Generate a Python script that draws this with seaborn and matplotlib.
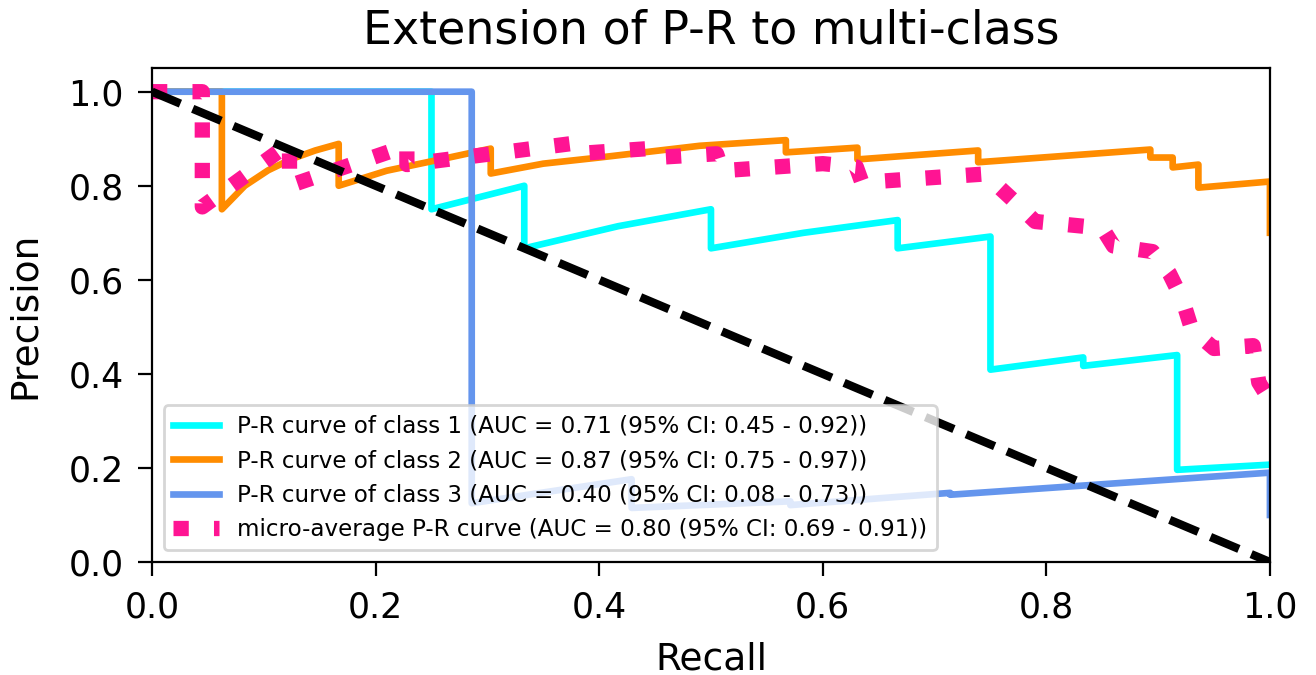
import matplotlib
matplotlib.use("Agg")
import matplotlib.pyplot as plt
import pandas as pd
import seaborn as sns

# P-R curves
class1_recall = [0, 0.25, 0.25, 0.333, 0.333, 0.417, 0.5, 0.5, 0.583, 0.667,
                 0.667, 0.75, 0.75, 0.833, 0.833, 0.917, 0.917, 1.0]
class1_precision = [1.0, 1.0, 0.75, 0.80, 0.667, 0.714, 0.75, 0.667, 0.70, 0.727,
                    0.667, 0.692, 0.409, 0.435, 0.417, 0.44, 0.196, 0.207]

class2_recall = [0, 0.0625, 0.0625, 0.083, 0.104, 0.125, 0.146, 0.167, 0.167, 0.21,
                 0.25, 0.303, 0.303, 0.35, 0.40, 0.49, 0.567, 0.567, 0.631, 0.631,
                 0.739, 0.739, 0.893, 0.893, 0.913, 0.913, 0.936, 0.936, 1.0, 1.0]
class2_precision = [1.0, 1.0, 0.75, 0.80, 0.833, 0.857, 0.875, 0.889, 0.80, 0.832,
                    0.852, 0.879, 0.826, 0.847, 0.86, 0.885, 0.897, 0.871, 0.881, 0.856,
                    0.875, 0.85, 0.877, 0.86, 0.86, 0.839, 0.845, 0.796, 0.809, 0.70]

class3_recall = [0, 0.286, 0.286, 0.429, 0.429, 0.571, 0.571, 0.714, 0.714, 1.0, 1.0]
class3_precision = [1.0, 1.0, 0.125, 0.176, 0.115, 0.129, 0.121, 0.147, 0.143, 0.19, 0.10]

micro_recall = [0, 0.045, 0.045, 0.123, 0.123, 0.228, 0.228, 0.383, 0.39, 0.444,
                0.45, 0.505, 0.51, 0.60, 0.63, 0.635, 0.745, 0.77, 0.79, 0.85,
                0.86, 0.895, 0.91, 0.922, 0.93, 0.95, 0.985, 0.99, 1.0]
micro_precision = [1.0, 1.0, 0.755, 0.89, 0.80, 0.885, 0.845, 0.892, 0.87, 0.879,
                   0.86, 0.868, 0.832, 0.847, 0.84, 0.807, 0.825, 0.77, 0.724, 0.71,
                   0.672, 0.66, 0.614, 0.556, 0.495, 0.454, 0.46, 0.382, 0.344]

labels = [
    "P-R curve of class 1 (AUC = 0.71 (95% CI: 0.45 - 0.92))",
    "P-R curve of class 2 (AUC = 0.87 (95% CI: 0.75 - 0.97))",
    "P-R curve of class 3 (AUC = 0.40 (95% CI: 0.08 - 0.73))",
    "micro-average P-R curve (AUC = 0.80 (95% CI: 0.69 - 0.91))",
]
colors = ["aqua", "darkorange", "cornflowerblue", "deeppink"]

curves = [
    (class1_recall, class1_precision),
    (class2_recall, class2_precision),
    (class3_recall, class3_precision),
    (micro_recall, micro_precision),
]

fig, ax = plt.subplots(figsize=(6.58, 3.375), dpi=200)
fig.subplots_adjust(left=0.1155, right=0.965, bottom=0.1674, top=0.899)

for i, (rec, prec) in enumerate(curves):
    df = pd.DataFrame({"recall": rec, "precision": prec})
    is_micro = i == 3
    sns.lineplot(
        data=df,
        x="recall",
        y="precision",
        sort=False,
        estimator=None,
        color=colors[i],
        linewidth=5.5 if is_micro else 2.4,
        linestyle=":" if is_micro else "-",
        label=labels[i],
        ax=ax,
    )

# chance line
chance = pd.DataFrame({"recall": [0, 1], "precision": [1, 0]})
sns.lineplot(data=chance, x="recall", y="precision", color="black",
             linestyle="--", linewidth=3, ax=ax, legend=False)

ax.set_xlim(0.0, 1.0)
ax.set_ylim(0.0, 1.05)
ax.set_xlabel("Recall", fontsize=13.5, labelpad=6)
ax.set_ylabel("Precision", fontsize=13.5, labelpad=9)
ax.set_title("Extension of P-R to multi-class", fontsize=16.5, pad=9)
ax.tick_params(labelsize=12.5, length=5.2, pad=5)
ax.legend(loc="lower left", fontsize=8.3)

plt.savefig("out.png", dpi=200)
